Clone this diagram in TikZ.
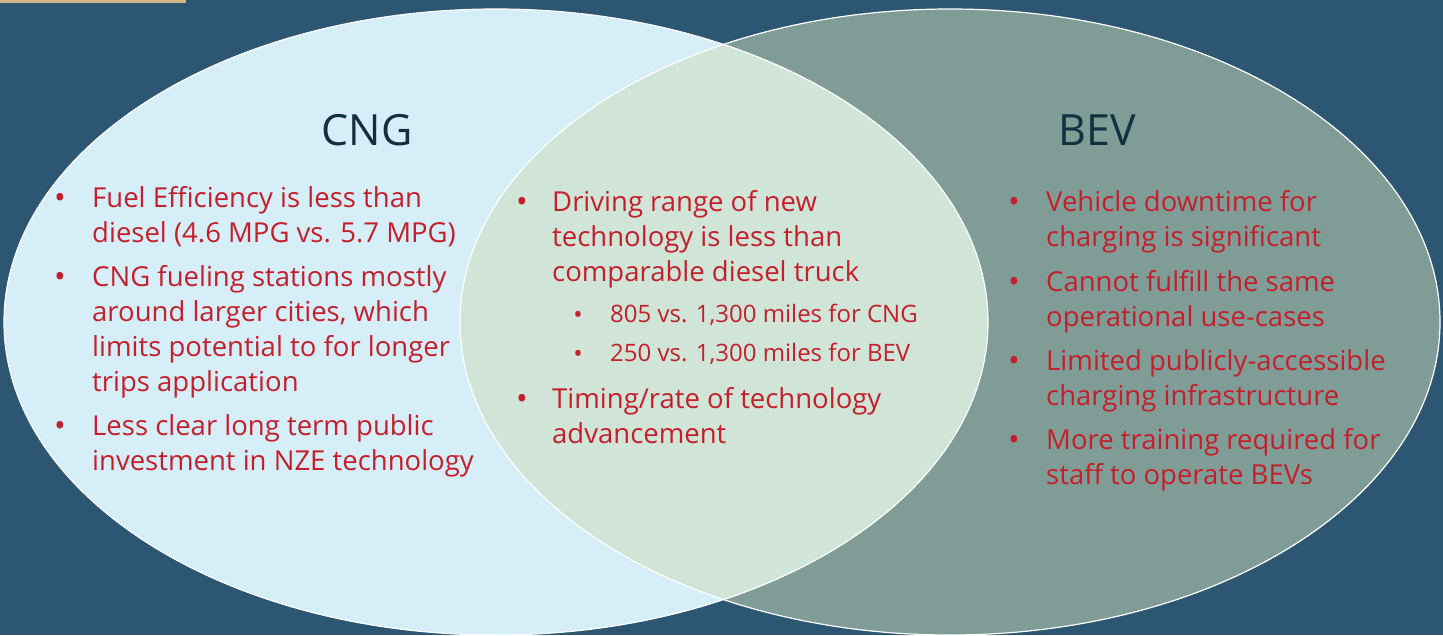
\documentclass[tikz,border=0pt]{standalone}
\usepackage{fontspec}
\setmainfont{Open Sans}
\definecolor{bg}{HTML}{2C5672}
\definecolor{tan}{HTML}{D4B483}
\definecolor{lblue}{HTML}{D6EEF8}
\definecolor{gg}{HTML}{7F9C96}
\definecolor{mid}{HTML}{D0E5D8}
\definecolor{rtxt}{HTML}{C4202C}
\definecolor{ttl}{HTML}{123040}
\tikzset{
  item/.style={anchor=base west, inner sep=0pt, align=left, text=rtxt,
    font=\fontsize{27.5}{35}\selectfont},
  subitem/.style={anchor=base west, inner sep=0pt, align=left, text=rtxt,
    font=\fontsize{24}{30}\selectfont},
  bul/.style={anchor=base, inner sep=0pt, text=rtxt, font=\fontsize{31}{34}\selectfont},
  sbul/.style={anchor=base, inner sep=0pt, text=rtxt, font=\fontsize{25}{28}\selectfont},
  ttlstyle/.style={anchor=base, inner sep=0pt, text=ttl, font=\fontsize{43}{48}\selectfont},
}
\begin{document}
\begin{tikzpicture}[x=1pt,y=-1pt]
\useasboundingbox (0,0) rectangle (1443,635);
\fill[bg] (0,0) rectangle (1443,635);
\fill[tan] (0,0) rectangle (186,3);
% ellipses
\fill[lblue] (496,322) ellipse [x radius=492, y radius=313];
\fill[gg] (950,322) ellipse [x radius=490, y radius=313];
\begin{scope}
  \clip (496,322) ellipse [x radius=492, y radius=313];
  \fill[mid] (950,322) ellipse [x radius=490, y radius=313];
\end{scope}
\draw[white, line width=1.2pt] (496,322) ellipse [x radius=492, y radius=313];
\draw[white, line width=1.2pt] (950,322) ellipse [x radius=490, y radius=313];
% titles
\node[ttlstyle] (tcng) at (367,145) {CNG};
\node[ttlstyle] (tbev) at (1097,145) {BEV};
% left (anchor = last line baseline)
\node[bul] (lb1) at (60,208) {•};
\node[item] (l1) at (92,242) {Fuel Efficiency is less than\\diesel (4.6 MPG vs. 5.7 MPG)};
\node[bul] (lb2) at (60,287) {•};
\node[item] (l2) at (92,391) {CNG fueling stations mostly\\around larger cities, which\\limits potential to for longer\\trips application};
\node[bul] (lb3) at (60,436) {•};
\node[item] (l3) at (92,470) {Less clear long term public\\investment in NZE technology};
% middle
\node[bul] (mb1) at (522,212) {•};
\node[item] (m1) at (552,281) {Driving range of new\\technology is less than\\comparable diesel truck};
\node[sbul] (msb1) at (578,323) {•};
\node[subitem] (ms1) at (610,322) {805 vs. 1,300 miles for CNG};
\node[sbul] (msb2) at (578,362) {•};
\node[subitem] (ms2) at (610,361) {250 vs. 1,300 miles for BEV};
\node[bul] (mb2) at (522,409) {•};
\node[item] (m2) at (552,443) {Timing/rate of technology\\advancement};
% right
\node[bul] (rb1) at (1014,212) {•};
\node[item] (r1) at (1046,246) {Vehicle downtime for\\charging is significant};
\node[bul] (rb2) at (1014,292) {•};
\node[item] (r2) at (1046,326) {Cannot fulfill the same\\operational use-cases};
\node[bul] (rb3) at (1014,371) {•};
\node[item] (r3) at (1046,405) {Limited publicly-accessible\\charging infrastructure};
\node[bul] (rb4) at (1014,450) {•};
\node[item] (r4) at (1046,484) {More training required for\\staff to operate BEVs};
\end{tikzpicture}
\end{document}
